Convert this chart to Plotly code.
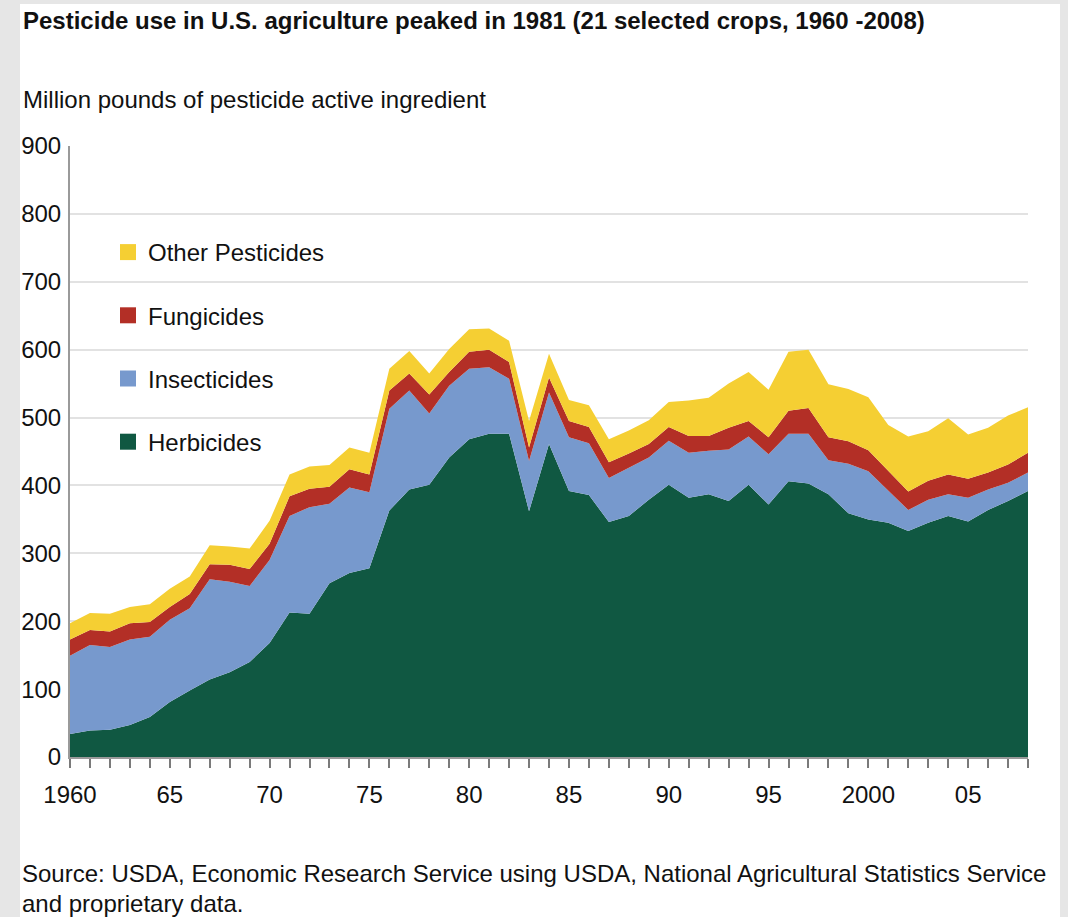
import plotly.graph_objects as go

# Pesticide use by type, million pounds of active ingredient, 21 selected crops
years = list(range(1960, 2009))

herbicides = [34, 39, 40, 47, 59, 81, 98, 114, 125, 140,
              168, 213, 211, 256, 271, 278, 363, 394, 401, 441,
              468, 476, 476, 362, 461, 392, 386, 346, 355, 379,
              401, 382, 387, 377, 401, 372, 406, 403, 387, 359,
              350, 345, 333, 345, 355, 347, 364, 377, 392]

insecticides = [115, 126, 122, 126, 118, 121, 121, 148, 133, 112,
                122, 142, 157, 117, 126, 112, 150, 146, 105, 106,
                104, 98, 81, 74, 76, 79, 76, 65, 71, 62,
                65, 66, 64, 76, 71, 74, 70, 73, 50, 73,
                71, 47, 31, 34, 32, 35, 30, 27, 27]

fungicides = [24, 22, 23, 24, 22, 19, 21, 22, 25, 25,
              24, 29, 27, 25, 27, 26, 27, 25, 28, 20,
              25, 26, 25, 20, 22, 24, 24, 23, 21, 20,
              20, 25, 22, 32, 23, 25, 34, 38, 34, 33,
              31, 29, 27, 28, 29, 28, 25, 27, 29]

other_pesticides = [24, 25, 26, 24, 26, 27, 26, 28, 27, 30,
                    34, 32, 33, 32, 32, 32, 32, 33, 31, 34,
                    33, 31, 31, 39, 35, 31, 32, 34, 34, 35,
                    37, 52, 56, 65, 72, 70, 87, 86, 78, 77,
                    78, 68, 81, 73, 83, 65, 66, 72, 67]

tick_years = list(range(1960, 2009))
tick_text = {1960: "1960", 1965: "65", 1970: "70", 1975: "75", 1980: "80",
             1985: "85", 1990: "90", 1995: "95", 2000: "2000", 2005: "05"}

series = [
    ("Herbicides", herbicides, "#105842"),
    ("Insecticides", insecticides, "#7799cd"),
    ("Fungicides", fungicides, "#b32f26"),
    ("Other Pesticides", other_pesticides, "#f5cf33"),
]

FONT = "Liberation Sans, Arial, Helvetica, sans-serif"

fig = go.Figure()

# stacked areas, bottom to top
for name, vals, color in series:
    fig.add_trace(go.Scatter(
        x=years, y=vals, name=name, mode="lines",
        stackgroup="pest", line=dict(width=0, color=color),
        fillcolor=color, showlegend=False, hoverinfo="x+y+name",
    ))

# legend entries with square swatches, top to bottom
for i, (name, vals, color) in enumerate(reversed(series)):
    fig.add_trace(go.Scatter(
        x=[None], y=[None], name=name, mode="markers",
        marker=dict(symbol="square", size=18, color=color),
        legendgroup=f"g{i}", showlegend=True,
    ))

# pixel helpers for placing page-level decorations in paper coordinates
L, R, T, B = 70, 1028, 146, 757
W, H = 1068, 917
def px(x):
    return (x - L) / (R - L)
def py(y):
    return (B - y) / (B - T)

gray = "#e6e6e6"
shapes = [
    dict(type="rect", xref="paper", yref="paper", x0=px(0), x1=px(20), y0=py(H), y1=py(0),
         fillcolor=gray, line=dict(width=0), layer="below"),
    dict(type="rect", xref="paper", yref="paper", x0=px(1060), x1=px(W), y0=py(H), y1=py(0),
         fillcolor=gray, line=dict(width=0), layer="below"),
    dict(type="rect", xref="paper", yref="paper", x0=px(0), x1=px(W), y0=py(4), y1=py(0),
         fillcolor=gray, line=dict(width=0), layer="below"),
]

annotations = [
    dict(text="<b>Pesticide use in U.S. agriculture peaked in 1981 (21 selected crops, 1960 -2008)</b>",
         xref="paper", yref="paper", x=px(21), y=py(20), xanchor="left", yanchor="middle",
         showarrow=False, font=dict(size=24, color="#111111", family=FONT)),
    dict(text="Million pounds of pesticide active ingredient",
         xref="paper", yref="paper", x=px(21), y=py(99), xanchor="left", yanchor="middle",
         showarrow=False, font=dict(size=24, color="#111111", family=FONT)),
    dict(text="Source: USDA, Economic Research Service using USDA, National Agricultural Statistics Service",
         xref="paper", yref="paper", x=px(20), y=py(873), xanchor="left", yanchor="middle",
         showarrow=False, font=dict(size=24, color="#111111", family=FONT)),
    dict(text="and proprietary data.",
         xref="paper", yref="paper", x=px(20), y=py(903), xanchor="left", yanchor="middle",
         showarrow=False, font=dict(size=24, color="#111111", family=FONT)),
]

fig.update_layout(
    width=W, height=H,
    margin=dict(l=L, r=W - R, t=T, b=H - B, pad=0),
    paper_bgcolor="white", plot_bgcolor="white",
    font=dict(family=FONT, size=24, color="#111111"),
    shapes=shapes, annotations=annotations,
    showlegend=True,
    legend=dict(
        x=px(108), y=py(230), xanchor="left", yanchor="top",
        bgcolor="rgba(0,0,0,0)", borderwidth=0,
        font=dict(size=24, family=FONT, color="#111111"),
        traceorder="grouped", tracegroupgap=29,
        itemclick=False, itemdoubleclick=False,
    ),
    xaxis=dict(
        range=[1960, 2008], tickmode="array", tickvals=tick_years,
        ticktext=[tick_text.get(y, "") for y in tick_years],
        ticks="outside", ticklen=9, tickwidth=1.5, tickcolor="#7a7a7a",
        showline=True, linecolor="#9a9a9a", linewidth=2,
        showgrid=False, zeroline=False, ticklabelstandoff=6,
        tickfont=dict(size=24, family=FONT, color="#111111"),
    ),
    yaxis=dict(
        range=[0, 900], tickmode="array", tickvals=list(range(0, 901, 100)),
        ticks="", showline=True, linecolor="#9a9a9a", linewidth=2,
        showgrid=True, gridcolor="#e2e2e2", gridwidth=1.5, zeroline=False,
        ticklabelstandoff=2,
        tickfont=dict(size=24, family=FONT, color="#111111"),
    ),
)

fig.write_html("out.html")
